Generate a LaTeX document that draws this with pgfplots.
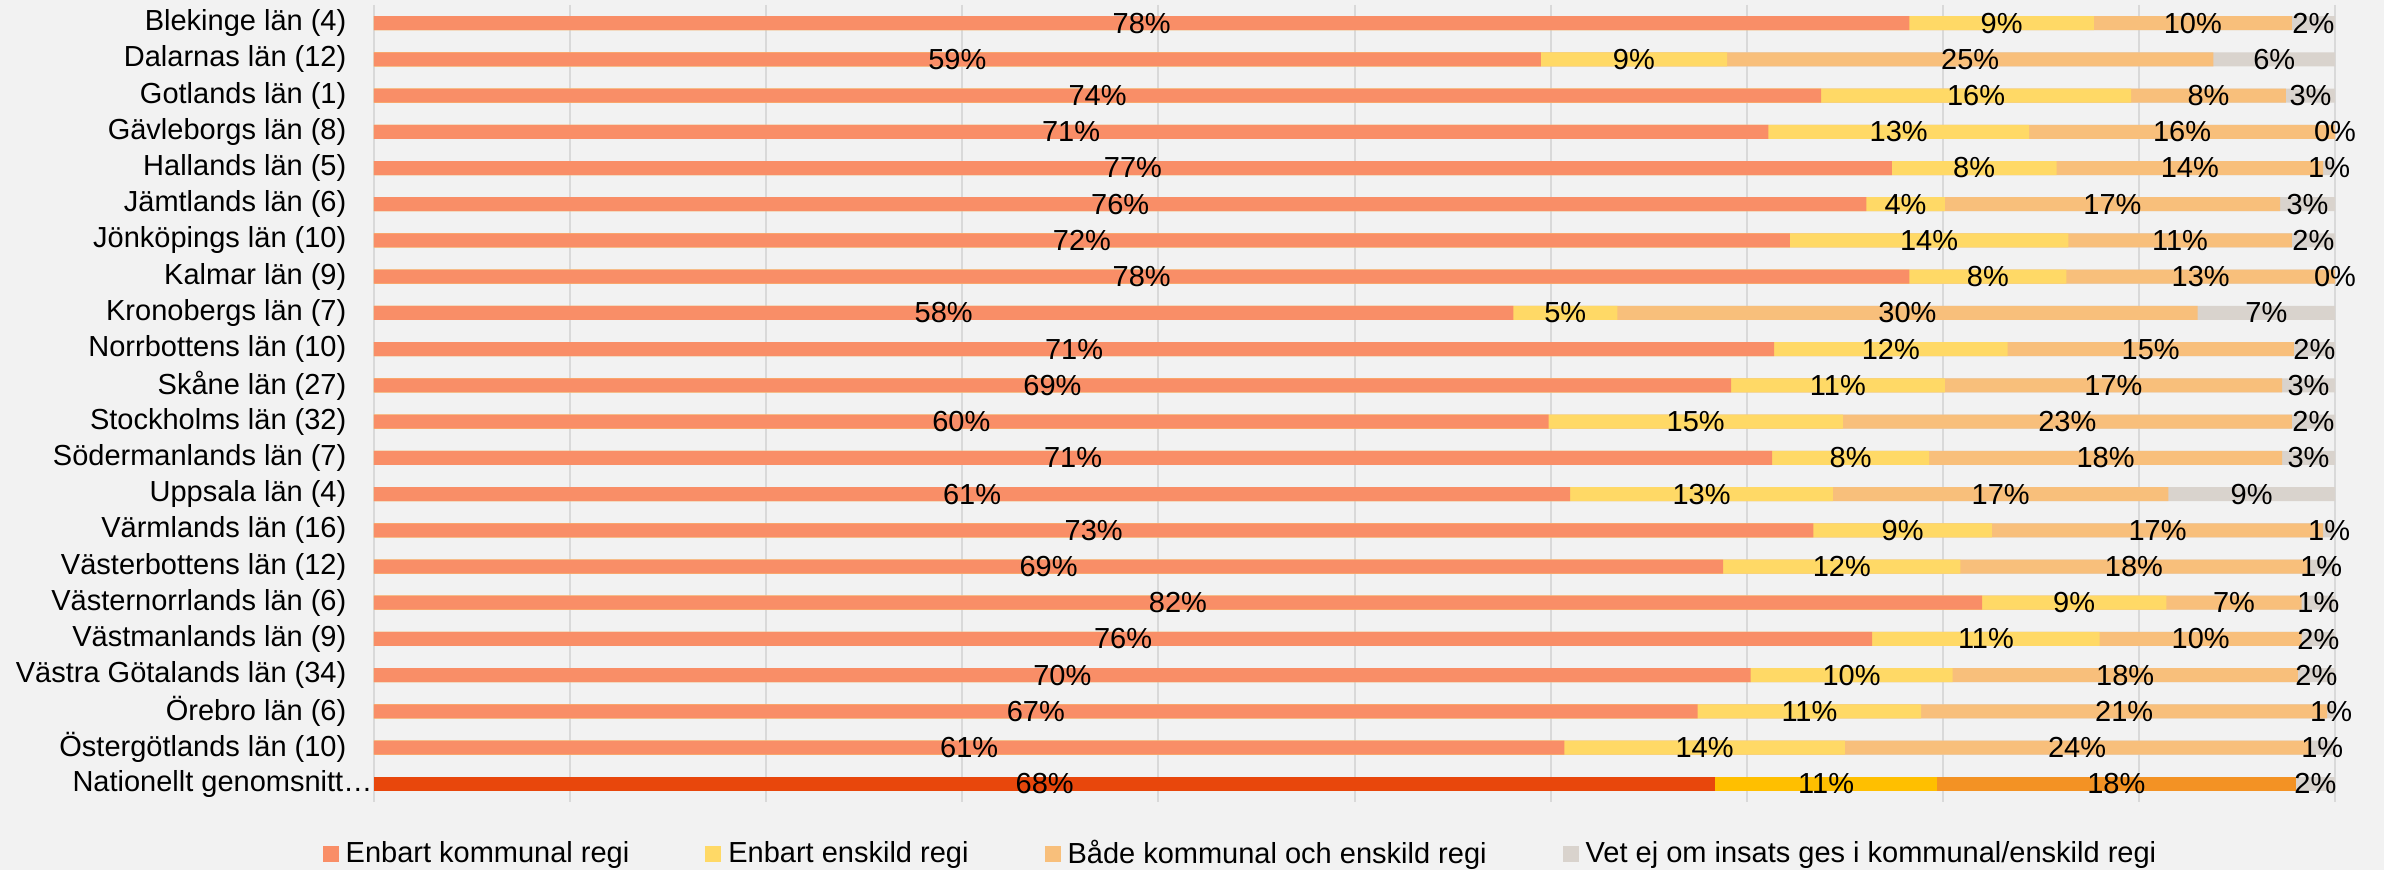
\documentclass[border=0pt]{standalone}
\usepackage{fontspec}
\setmainfont{Liberation Sans}
\usepackage{pgfplots}
\pgfplotsset{compat=1.18}
\usepackage{pgfplotstable}
\definecolor{bg}{HTML}{F2F2F2}
\definecolor{ck}{HTML}{F98E67}
\definecolor{ce}{HTML}{FFD966}
\definecolor{cb}{HTML}{F8BF7B}
\definecolor{cv}{HTML}{D9D3CD}
\definecolor{nk}{HTML}{E8470C}
\definecolor{ne}{HTML}{FFBF00}
\definecolor{nb}{HTML}{F39224}
\definecolor{gridc}{HTML}{D9D9D9}

\pgfplotstableread{
y  k    e    b    v    lk le lb lv
0  78.3 9.4  10.1 2.2  78 9  10 2
1  59.5 9.5  24.8 6.2  59 9  25 6
2  73.8 15.8 7.9  2.5  74 16 8  3
3  71.1 13.3 15.6 0.0  71 13 16 0
4  77.4 8.4  13.6 0.6  77 8  14 1
5  76.1 4.0  17.1 2.8  76 4  17 3
6  72.2 14.2 11.4 2.2  72 14 11 2
7  78.3 8.0  13.7 0.0  78 8  13 0
8  58.1 5.3  29.6 7.0  58 5  30 7
9  71.4 11.9 14.6 2.1  71 12 15 2
10 69.2 10.9 17.2 2.7  69 11 17 3
11 59.9 15.0 22.9 2.2  60 15 23 2
12 71.3 8.0  18.0 2.7  71 8  18 3
13 61.0 13.4 17.1 8.5  61 13 17 9
14 73.4 9.1  16.9 0.6  73 9  17 1
15 68.8 12.1 17.7 1.4  69 12 18 1
16 82.0 9.4  6.9  1.7  82 9  7  1
17 76.4 11.6 10.3 1.7  76 11 10 2
18 70.2 10.3 17.6 1.9  70 10 18 2
19 67.5 11.4 20.7 0.4  67 11 21 1
20 60.7 14.3 23.7 1.3  61 14 24 1
}\regions

\pgfplotstableread{
y  k    e    b    v    lk le lb lv
21 68.4 11.3 18.3 2.0  68 11 18 2
}\national

\pgfplotsset{
  lbl/.style={draw=none, mark=none, forget plot, nodes near coords={\pgfplotspointmeta\%}, point meta=explicit symbolic},
  hb/.style={xbar, bar width=4.2pt, bar shift=0pt, fill=#1, draw=none, forget plot},
}

\begin{document}
\fontsize{8.7pt}{10pt}\selectfont
\begin{tikzpicture}
\path[use as bounding box, fill=bg] (-112.2pt,-20.4pt) rectangle (603pt,240.6pt);
\begin{axis}[
  at={(0,0)}, anchor=south west,
  scale only axis,
  width=588.3pt, height=239.1pt,
  xmin=0, xmax=100,
  ymin=-0.5, ymax=21.5,
  y dir=reverse,
  clip=false,
  axis line style={draw=none},
  major tick length=0pt,
  xtick={0,10,...,100},
  xticklabels={},
  xmajorgrids,
  grid style={gridc, line width=0.6pt},
  ytick={0,...,21},
  yticklabels={Blekinge län (4),Dalarnas län (12),Gotlands län (1),Gävleborgs län (8),Hallands län (5),Jämtlands län (6),Jönköpings län (10),Kalmar län (9),Kronobergs län (7),Norrbottens län (10),Skåne län (27),Stockholms län (32),Södermanlands län (7),Uppsala län (4),Värmlands län (16),Västerbottens län (12),Västernorrlands län (6),Västmanlands län (9),Västra Götalands län (34),Örebro län (6),Östergötlands län (10),Nationellt genomsnitt…\kern-7.8pt},
  yticklabel style={anchor=east, inner sep=0pt, xshift=-8.1pt},
  legend columns=4,
  legend image code/.code={\fill[#1] (0pt,-2.4pt) rectangle (4.8pt,2.4pt);},
  legend style={at={(-0.0265,-0.0652)}, anchor=west, draw=none, fill=none, inner sep=0pt,
    /tikz/every odd column/.append style={column sep=2.1pt},
    /tikz/every even column/.append style={column sep=22.8pt},
    nodes={inner sep=0pt, anchor=west}},
  every node near coord/.style={anchor=center, inner sep=0pt, text=black},
]
% regional bars (cumulative, drawn back to front)
\addplot[hb=cv] table[x expr=\thisrow{k}+\thisrow{e}+\thisrow{b}+\thisrow{v}, y=y] {\regions};
\addplot[hb=cb] table[x expr=\thisrow{k}+\thisrow{e}+\thisrow{b}, y=y] {\regions};
\addplot[hb=ce] table[x expr=\thisrow{k}+\thisrow{e}, y=y] {\regions};
\addplot[hb=ck] table[x=k, y=y] {\regions};
% national bars
\addplot[hb=cv] table[x expr=\thisrow{k}+\thisrow{e}+\thisrow{b}+\thisrow{v}, y=y] {\national};
\addplot[hb=nb] table[x expr=\thisrow{k}+\thisrow{e}+\thisrow{b}, y=y] {\national};
\addplot[hb=ne] table[x expr=\thisrow{k}+\thisrow{e}, y=y] {\national};
\addplot[hb=nk] table[x=k, y=y] {\national};
% labels
\addplot[lbl] table[x expr=\thisrow{k}/2, y=y, meta=lk] {\regions};
\addplot[lbl] table[x expr=\thisrow{k}+\thisrow{e}/2, y=y, meta=le] {\regions};
\addplot[lbl] table[x expr=\thisrow{k}+\thisrow{e}+\thisrow{b}/2, y=y, meta=lb] {\regions};
\addplot[lbl] table[x expr=\thisrow{k}+\thisrow{e}+\thisrow{b}+\thisrow{v}/2, y=y, meta=lv] {\regions};
\addplot[lbl] table[x expr=\thisrow{k}/2, y=y, meta=lk] {\national};
\addplot[lbl] table[x expr=\thisrow{k}+\thisrow{e}/2, y=y, meta=le] {\national};
\addplot[lbl] table[x expr=\thisrow{k}+\thisrow{e}+\thisrow{b}/2, y=y, meta=lb] {\national};
\addplot[lbl] table[x expr=\thisrow{k}+\thisrow{e}+\thisrow{b}+\thisrow{v}/2, y=y, meta=lv] {\national};
\addlegendimage{fill=ck, draw=none}
\addlegendentry{Enbart kommunal regi}
\addlegendimage{fill=ce, draw=none}
\addlegendentry{Enbart enskild regi}
\addlegendimage{fill=cb, draw=none}
\addlegendentry{Både kommunal och enskild regi}
\addlegendimage{fill=cv, draw=none}
\addlegendentry{Vet ej om insats ges i kommunal/enskild regi}
\end{axis}
\end{tikzpicture}
\end{document}
